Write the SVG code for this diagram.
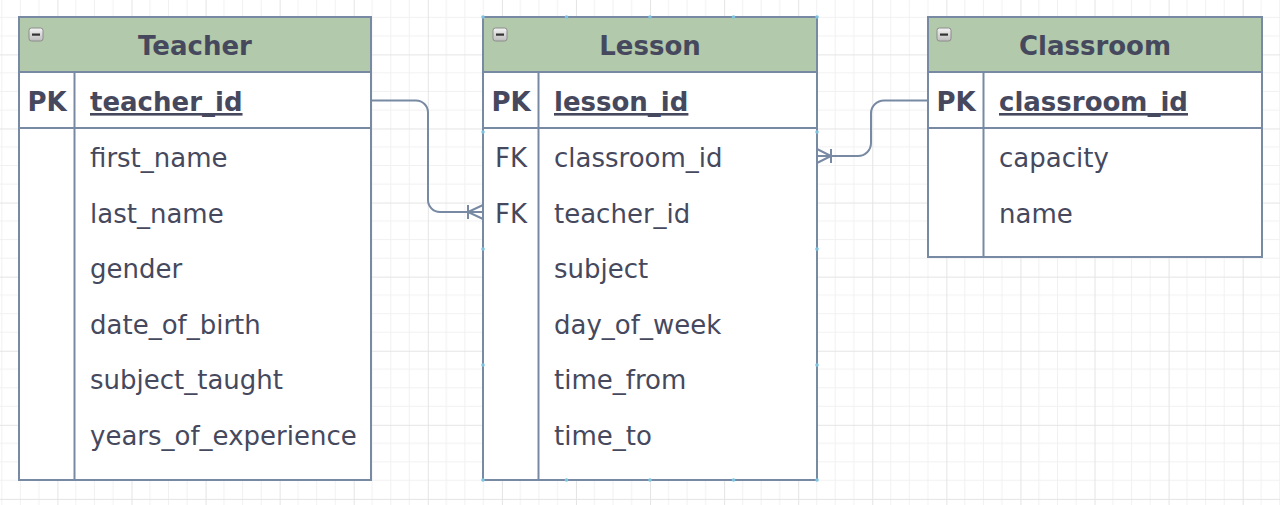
<svg xmlns="http://www.w3.org/2000/svg" width="1280" height="505" viewBox="0 0 1280 505">
<defs>
<pattern id="grid" patternUnits="userSpaceOnUse" x="-16.68" y="-19.68" width="74.08" height="74.08">
<path d="M18.52 0V74.08M37.04 0V74.08M55.56 0V74.08M0 18.52H74.08M0 37.04H74.08M0 55.56H74.08" stroke="#f1f1f1" stroke-width="1" fill="none"/>
<path d="M0.5 0V74.08M0 0.5H74.08" stroke="#e4e4e4" stroke-width="1" fill="none"/>
</pattern>
<linearGradient id="btn" x1="0" y1="0" x2="0" y2="1">
<stop offset="0" stop-color="#f4f4f4"/>
<stop offset="1" stop-color="#bdbdbd"/>
</linearGradient>
<g id="minus">
<rect x="0" y="0" width="14" height="13" rx="2.5" fill="url(#btn)" stroke="#8c8c8c" stroke-width="1"/>
<rect x="3" y="5.5" width="8" height="2.2" fill="#333"/>
</g>
</defs>
<style>
.box{fill:#ffffff;stroke:#788AA3;stroke-width:2}
.hdr{fill:#B2C9AB;stroke:#788AA3;stroke-width:2}
.ln{stroke:#788AA3;stroke-width:2;fill:none}
.t{font-family:"DejaVu Sans","Verdana",sans-serif;font-size:26px;fill:#46495D}
.b{font-weight:bold}
.title{font-family:"DejaVu Sans","Verdana",sans-serif;font-size:26px;font-weight:bold;fill:#46495D;text-anchor:middle}
.key{text-anchor:middle}
.u{text-decoration:underline}
.con{stroke:#788AA3;stroke-width:2;fill:none}
.pt{fill:#7cc3e0}
</style>
<rect width="1280" height="505" fill="#ffffff"/>
<rect width="1280" height="505" fill="url(#grid)"/>

<g id="connectors">
<path class="con" d="M371 100.5H416A12 12 0 0 1 428 112.5V200A12 12 0 0 0 440 212H483"/>
<path class="con" d="M468 205V219M483 205L468 212L483 219"/>
<path class="con" d="M928 100.5H884A13 13 0 0 0 871 113.5V143A13 13 0 0 1 858 156H817"/>
<path class="con" d="M831 149V163M817 149L831 156L817 163"/>
</g>

<g id="teacher">
<rect class="box" x="19" y="17" width="352" height="463"/>
<rect class="hdr" x="19" y="17" width="352" height="55"/>
<path class="ln" d="M19 128H371M74.5 72V480"/>
<use href="#minus" x="29" y="28"/>
<text class="title" x="195" y="55">Teacher</text>
<text class="t b key" x="47" y="111">PK</text>
<text class="t b u" x="90" y="111">teacher_id</text>
<text class="t" x="90" y="167">first_name</text>
<text class="t" x="90" y="222.5">last_name</text>
<text class="t" x="90" y="278">gender</text>
<text class="t" x="90" y="333.5">date_of_birth</text>
<text class="t" x="90" y="389">subject_taught</text>
<text class="t" x="90" y="444.5">years_of_experience</text>
</g>

<g id="lesson">
<rect class="box" x="483" y="17" width="334" height="463"/>
<rect class="hdr" x="483" y="17" width="334" height="55"/>
<path class="ln" d="M483 128H817M538.5 72V480"/>
<use href="#minus" x="493" y="28"/>
<text class="title" x="650" y="55">Lesson</text>
<text class="t b key" x="511" y="111">PK</text>
<text class="t b u" x="554" y="111">lesson_id</text>
<text class="t key" x="511" y="167">FK</text>
<text class="t" x="554" y="167">classroom_id</text>
<text class="t key" x="511" y="222.5">FK</text>
<text class="t" x="554" y="222.5">teacher_id</text>
<text class="t" x="554" y="278">subject</text>
<text class="t" x="554" y="333.5">day_of_week</text>
<text class="t" x="554" y="389">time_from</text>
<text class="t" x="554" y="444.5">time_to</text>
<circle class="pt" cx="483" cy="17" r="1.8"/>
<circle class="pt" cx="566.5" cy="17" r="1.8"/>
<circle class="pt" cx="650" cy="17" r="1.8"/>
<circle class="pt" cx="733.5" cy="17" r="1.8"/>
<circle class="pt" cx="817" cy="17" r="1.8"/>
<circle class="pt" cx="483" cy="132" r="1.8"/>
<circle class="pt" cx="483" cy="249" r="1.8"/>
<circle class="pt" cx="483" cy="365" r="1.8"/>
<circle class="pt" cx="817" cy="132" r="1.8"/>
<circle class="pt" cx="817" cy="249" r="1.8"/>
<circle class="pt" cx="817" cy="365" r="1.8"/>
<circle class="pt" cx="483" cy="480" r="1.8"/>
<circle class="pt" cx="566.5" cy="480" r="1.8"/>
<circle class="pt" cx="650" cy="480" r="1.8"/>
<circle class="pt" cx="733.5" cy="480" r="1.8"/>
<circle class="pt" cx="817" cy="480" r="1.8"/>
</g>

<g id="classroom">
<rect class="box" x="928" y="17" width="334" height="240"/>
<rect class="hdr" x="928" y="17" width="334" height="55"/>
<path class="ln" d="M928 128H1262M983.5 72V257"/>
<use href="#minus" x="937" y="28"/>
<text class="title" x="1095" y="55">Classroom</text>
<text class="t b key" x="956" y="111">PK</text>
<text class="t b u" x="999" y="111">classroom_id</text>
<text class="t" x="999" y="167">capacity</text>
<text class="t" x="999" y="222.5">name</text>
</g>
</svg>
